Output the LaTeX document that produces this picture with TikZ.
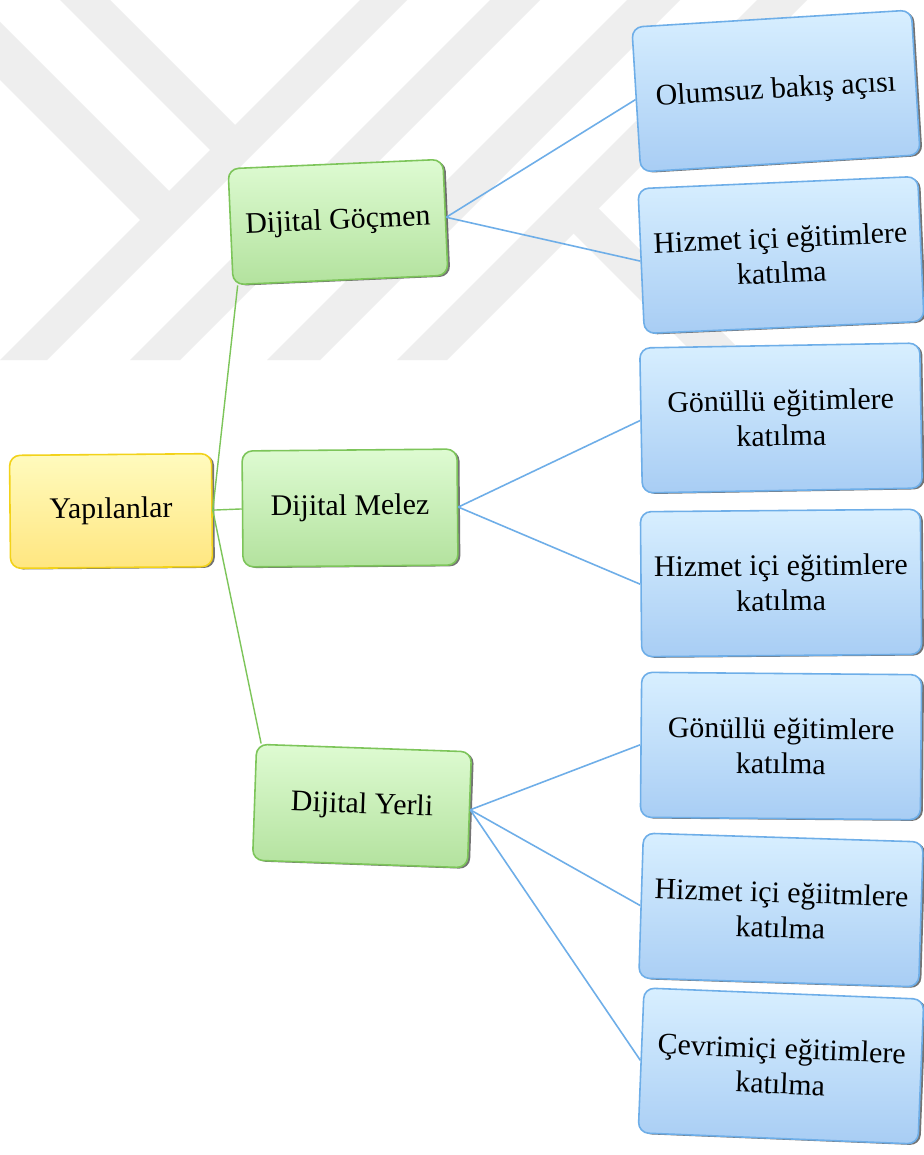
\documentclass[tikz,border=0pt]{standalone}
\usepackage{fontspec}
\setmainfont{Liberation Serif}
\usetikzlibrary{shadows}

\definecolor{yellowline}{HTML}{F2D21A}
\definecolor{yellowtop}{HTML}{FFFBBE}
\definecolor{yellowbot}{HTML}{FFE680}
\definecolor{greenline}{HTML}{7DC55A}
\definecolor{greentop}{HTML}{DEFBD2}
\definecolor{greenbot}{HTML}{B3E29E}
\definecolor{blueline}{HTML}{6EAEE8}
\definecolor{bluetop}{HTML}{D8EFFF}
\definecolor{bluebot}{HTML}{A8CDF4}
\definecolor{markgray}{HTML}{EEEEEE}

\begin{document}
\begin{tikzpicture}[x=0.02cm, y=-0.02cm, every node/.style={font=\fontsize{17}{20}\selectfont}, box/.style={draw, rounded corners=6pt, align=center, line width=0.9pt, drop shadow={shadow xshift=1.4pt, shadow yshift=-0.7pt, fill=black, opacity=0.55}}, rootbox/.style={box, draw=yellowline, top color=yellowtop, bottom color=yellowbot, minimum width=4.04cm, minimum height=2.26cm}, midbox/.style={box, draw=greenline, top color=greentop, bottom color=greenbot, minimum width=4.3cm, minimum height=2.32cm}, leafbox/.style={box, draw=blueline, top color=bluetop, bottom color=bluebot, minimum width=5.6cm, minimum height=2.9cm}, gline/.style={draw=greenline, line width=0.8pt}, bline/.style={draw=blueline, line width=0.9pt}]
\fill[white] (0,0) rectangle (923,1155);
\useasboundingbox (0,0) rectangle (923,1155);
\begin{scope}
\clip (0,0) rectangle (923,360);
\fill[markgray] (360,0)--(407,0)--(47,360)--(0,360)--cycle;
\fill[markgray] (490,0)--(540,0)--(180,360)--(130,360)--cycle;
\fill[markgray] (627,0)--(680,0)--(320,360)--(267,360)--cycle;
\fill[markgray] (757,0)--(807,0)--(447,360)--(397,360)--cycle;
\fill[markgray] (60,0)--(110,0)--(240,130)--(215,155)--cycle;
\fill[markgray] (0,22)--(174,196)--(145,225)--(0,80)--cycle;
\fill[markgray] (595,205)--(750,360)--(700,360)--(570,230)--cycle;
\end{scope}
\node[rootbox, rotate=0.5] (root) at (111,511) {Yapılanlar};
\node[midbox, rotate=2.5] (goc) at (338,222) {Dijital Göçmen};
\node[midbox, rotate=0.5] (mel) at (350,508) {Dijital Melez};
\node[midbox, rotate=-2] (yer) at (362,806) {Dijital Yerli};
\node[leafbox, rotate=3.5] (olum) at (776,91) {Olumsuz bakış açısı};
\node[leafbox, rotate=2.5] (hizA) at (781,255) {Hizmet içi eğitimlere\\katılma};
\node[leafbox, rotate=1] (gonA) at (781,418) {Gönüllü eğitimlere\\katılma};
\node[leafbox, rotate=0.5] (hizB) at (781,583) {Hizmet içi eğitimlere\\katılma};
\node[leafbox, rotate=-0.5] (gonB) at (781,746) {Gönüllü eğitimlere\\katılma};
\node[leafbox, rotate=-1.8] (hizC) at (781,910) {Hizmet içi eğiitmlere\\katılma};
\node[leafbox, rotate=-2.3] (cevr) at (781,1066) {Çevrimiçi eğitimlere\\katılma};
\draw[gline] (root.east)--([xshift=3pt]goc.south west); \draw[gline] (root.east)--(mel.west); \draw[gline] (root.east)--([xshift=3pt]yer.north west);
\draw[bline] (goc.east)--(olum.west); \draw[bline] (goc.east)--(hizA.west);
\draw[bline] (mel.east)--(gonA.west); \draw[bline] (mel.east)--(hizB.west);
\draw[bline] (yer.east)--(gonB.west); \draw[bline] (yer.east)--(hizC.west); \draw[bline] (yer.east)--(cevr.west);
\end{tikzpicture}
\end{document}
